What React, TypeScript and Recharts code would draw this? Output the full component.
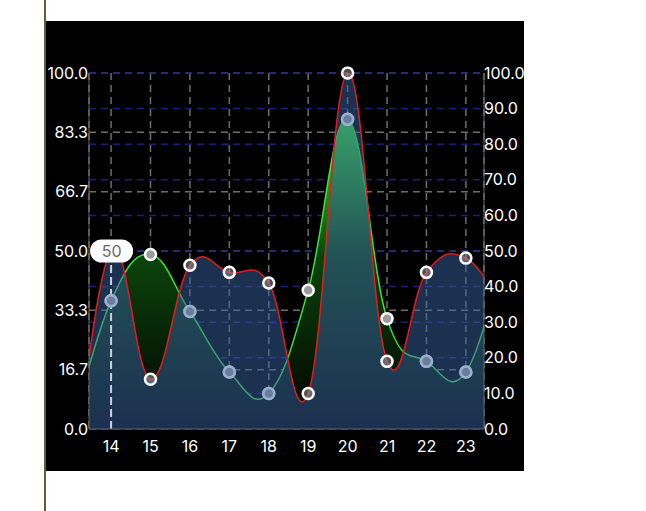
import React from "react"
import {
  Area,
  AreaChart,
  CartesianGrid,
  ReferenceDot,
  ReferenceLine,
  XAxis,
  YAxis
} from "recharts"

// days 13 and 24 sit just outside the visible window, the curves run into them
const days = [13, 14, 15, 16, 17, 18, 19, 20, 21, 22, 23, 24]
const redValues = [-18, 50, 14, 46, 44, 41, 10, 100, 19, 44, 48, 33]
const greenValues = [0, 36, 49, 33, 16, 10, 39, 87, 31, 19, 16, 51]

const dayTicks = [14, 15, 16, 17, 18, 19, 20, 21, 22, 23]
const leftTicks = [0, 16.67, 33.33, 50, 66.67, 83.33, 100]
const rightTicks = [0, 10, 20, 30, 40, 50, 60, 70, 80, 90, 100]

const highlightDay = 14
const highlightValue = 50

const data = days.map((day, i) => ({
  day,
  red: redValues[i],
  green: greenValues[i]
}))

const redFill = "#3760a0"
const redFillOpacity = 0.5

// cubic bezier like the iOS charts lib draws it (intensity 0.2)
function cubicCurve(context: any) {
  const k = 0.2
  let xs: number[] = []
  let ys: number[] = []
  let line = NaN
  return {
    areaStart() {
      line = 0
    },
    areaEnd() {
      line = NaN
    },
    lineStart() {
      xs = []
      ys = []
    },
    lineEnd() {
      const n = xs.length
      if (n) {
        if (line) context.lineTo(xs[0], ys[0])
        else context.moveTo(xs[0], ys[0])
        for (let j = 1; j < n; j++) {
          const pp = Math.max(j - 2, 0)
          const p = j - 1
          const nx = Math.min(j + 1, n - 1)
          context.bezierCurveTo(
            xs[p] + (xs[j] - xs[pp]) * k,
            ys[p] + (ys[j] - ys[pp]) * k,
            xs[j] - (xs[nx] - xs[p]) * k,
            ys[j] - (ys[nx] - ys[p]) * k,
            xs[j],
            ys[j]
          )
        }
      }
      if (line || (line !== 0 && n === 1)) context.closePath()
      line = 1 - line
    },
    point(x: number, y: number) {
      xs.push(+x)
      ys.push(+y)
    }
  }
}

const dotStyle = {
  r: 5.5,
  fill: "#9b9b9b",
  stroke: "#ffffff",
  strokeWidth: 2.5,
  clipDot: false
}

// green dots sitting under the red area get the red area's tint over them
function GreenDot(props: any) {
  const { cx, cy, payload, index } = props
  if (cx == null || cy == null) return <g key={`gd-${index}`} />
  const covered = payload.green < payload.red
  return (
    <g key={`gd-${index}`}>
      <circle cx={cx} cy={cy} r={5.5} fill="#9b9b9b" stroke="#ffffff" strokeWidth={2.5} />
      {covered && (
        <circle cx={cx} cy={cy} r={6.8} fill={redFill} fillOpacity={redFillOpacity} />
      )}
    </g>
  )
}

function ValuePill(props: any) {
  const { cx, cy } = props
  return (
    <g>
      <rect x={cx - 21} y={cy - 11.5} width={43} height={23} rx={11.5} fill="#ffffff" />
      <text x={cx + 0.5} y={cy} dy="0.36em" textAnchor="middle" fill="#6a6a6a" fontSize={16}>
        {highlightValue}
      </text>
    </g>
  )
}

export default function App() {
  return (
    <div
      style={{
        position: "absolute",
        left: 0,
        top: 0,
        width: 646,
        height: 511,
        background: "#ffffff",
        fontFamily: "Inter"
      }}>
      <div
        style={{
          position: "absolute",
          left: 44,
          top: 0,
          width: 2,
          height: 511,
          background: "#5e5e34"
        }}
      />
      <div style={{ position: "absolute", left: 46, top: 21, background: "#000000" }}>
        <AreaChart
          width={478}
          height={450}
          data={data}
          margin={{ top: 52, right: 0, bottom: 0, left: 0 }}>
          <defs>
            <linearGradient id="greenFill" x1="0" y1="0" x2="0" y2="1">
              <stop offset="0" stopColor="#38e034" />
              <stop offset="0.44" stopColor="#0c440c" />
              <stop offset="1" stopColor="#000000" />
            </linearGradient>
          </defs>
          <CartesianGrid
            yAxisId="left"
            stroke="#6e6e6e"
            strokeWidth={1.5}
            strokeDasharray="7 5"
          />
          <CartesianGrid
            yAxisId="right"
            vertical={false}
            stroke="#1e1e7a"
            strokeWidth={1.5}
            strokeDasharray="7 5"
          />
          <XAxis
            dataKey="day"
            type="number"
            domain={[13.44, 23.46]}
            allowDataOverflow
            ticks={dayTicks}
            interval={0}
            height={42}
            tickSize={0}
            tickMargin={12}
            tickLine={false}
            axisLine={{ stroke: "#666666" }}
            tick={{ fill: "#ffffff", fontSize: 16 }}
          />
          <YAxis
            yAxisId="left"
            domain={[0, 100]}
            allowDataOverflow
            ticks={leftTicks}
            interval={0}
            width={43}
            tickSize={0}
            tickMargin={1}
            tickLine={false}
            axisLine={{ stroke: "#666666" }}
            tick={{ fill: "#ffffff", fontSize: 16 }}
            tickFormatter={(v) => Number(v).toFixed(1)}
          />
          <YAxis
            yAxisId="right"
            orientation="right"
            domain={[0, 100]}
            allowDataOverflow
            ticks={rightTicks}
            interval={0}
            width={40}
            tickSize={0}
            tickMargin={0}
            tickLine={false}
            axisLine={{ stroke: "#666666" }}
            tick={{ fill: "#ffffff", fontSize: 16 }}
            tickFormatter={(v) => Number(v).toFixed(1)}
          />
          <Area
            yAxisId="left"
            dataKey="green"
            type={cubicCurve as any}
            stroke="#3ee03e"
            strokeWidth={1.5}
            fill="url(#greenFill)"
            fillOpacity={1}
            dot={GreenDot}
            activeDot={false}
            isAnimationActive={false}
          />
          <Area
            yAxisId="right"
            dataKey="red"
            type={cubicCurve as any}
            stroke="#e41b1b"
            strokeWidth={1.5}
            fill={redFill}
            fillOpacity={redFillOpacity}
            dot={dotStyle}
            activeDot={false}
            isAnimationActive={false}
          />
          <ReferenceLine
            yAxisId="left"
            segment={[
              { x: highlightDay, y: 0 },
              { x: highlightDay, y: highlightValue }
            ]}
            stroke="#c8d0e0"
            strokeWidth={2}
            strokeDasharray="8 4"
          />
          <ReferenceDot
            yAxisId="left"
            x={highlightDay}
            y={highlightValue}
            shape={ValuePill}
          />
        </AreaChart>
      </div>
    </div>
  )
}
